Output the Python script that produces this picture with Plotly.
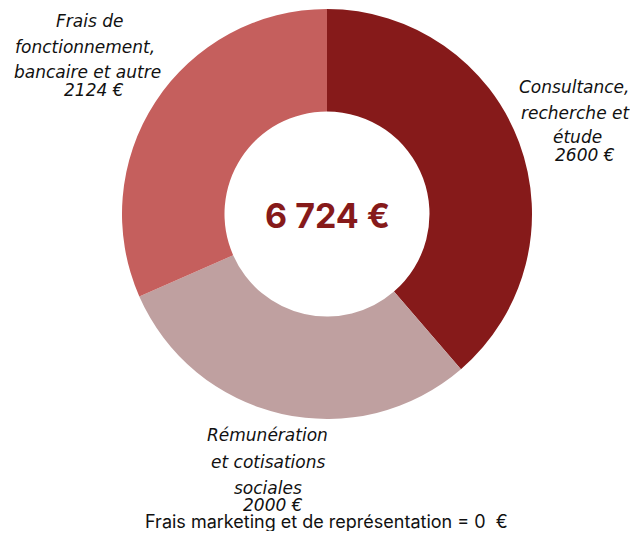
import plotly.graph_objects as go

categories = ["Consultance, recherche et étude", "Rémunération et cotisations sociales",
              "Frais de fonctionnement, bancaire et autre"]
values = [2600, 2000, 2124]
colors = ["#861a1a", "#bfa0a0", "#c55f5d"]
total_label = "6 724 €"
footer = "Frais marketing et de représentation = 0\u00a0 €"

label_lines = [
    ["Consultance,", "recherche et", "étude"],
    ["Rémunération", "et cotisations", "sociales"],
    ["Frais de", "fonctionnement,", "bancaire et autre"],
]
value_labels = ["2600 €", "2000 €", "2124 €"]

# page has an 8px body margin: draw in a 622x523 figure, shifted by 8px
OFF = 8
W, H = 638 - 2 * OFF, 539 - 2 * OFF


def px(x, y):
    return (x - OFF) / W, 1 - (y - OFF) / H


cx, cy, R = 327, 214, 205
x0, y1 = px(cx - R, cy - R)
x1, y0 = px(cx + R, cy + R)

fig = go.Figure(go.Pie(
    labels=categories, values=values, hole=0.5, sort=False, direction="clockwise",
    rotation=0, marker=dict(colors=colors, line=dict(width=0)), textinfo="none",
    hoverinfo="label+value", showlegend=False,
    domain=dict(x=[x0, x1], y=[y0, y1]),
))

line_pos = [
    [(574, 87), (575, 113), (577, 137)],
    [(267, 435), (268, 462), (268, 488)],
    [(90, 21), (85, 47), (87, 72)],
]
value_pos = [(585, 155), (273, 505), (94, 90)]

anns = []
ifont = dict(family="DejaVu Sans", size=17, color="#111111", style="italic")
for lines, poss, vl, vp in zip(label_lines, line_pos, value_labels, value_pos):
    for t, (x, y) in zip(lines, poss):
        ax, ay = px(x, y)
        anns.append(dict(text=t, x=ax, y=ay, xref="paper", yref="paper",
                         showarrow=False, font=ifont, xanchor="center", yanchor="middle"))
    ax, ay = px(*vp)
    anns.append(dict(text=vl, x=ax, y=ay, xref="paper", yref="paper",
                     showarrow=False, font=ifont, xanchor="center", yanchor="middle"))

ax, ay = px(327, 215)
anns.append(dict(text=f"<b>{total_label}</b>", x=ax, y=ay, xref="paper", yref="paper",
                 showarrow=False, font=dict(family="Inter", size=34, color="#861a1a"),
                 xanchor="center", yanchor="middle"))
ax, ay = px(326, 521)
anns.append(dict(text=footer, x=ax, y=ay, xref="paper", yref="paper",
                 showarrow=False, font=dict(family="Inter", size=18, color="#111111"),
                 xanchor="center", yanchor="middle"))

fig.update_layout(width=W, height=H, margin=dict(l=0, r=0, t=0, b=0),
                  paper_bgcolor="white", plot_bgcolor="white", annotations=anns)
fig.write_html("out.html")
